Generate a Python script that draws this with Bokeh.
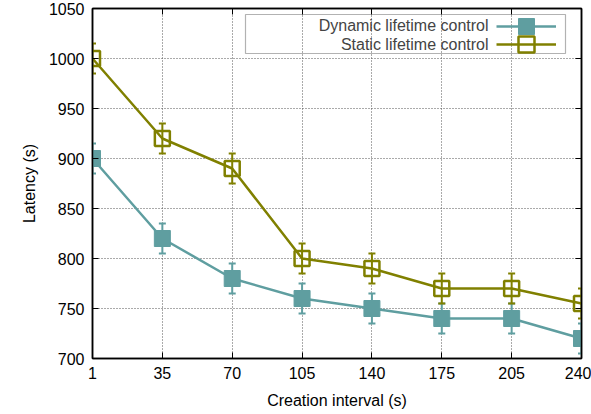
from bokeh.plotting import figure
from bokeh.models import (Range1d, FixedTicker, LinearAxis, ColumnDataSource, Whisker,
                          TeeHead, Legend, LegendItem, Label, BoxAnnotation)
from bokeh.embed import file_html
from bokeh.resources import INLINE

categories = ["1", "35", "70", "105", "140", "175", "205", "240"]
dynamic = [900, 820, 780, 760, 750, 740, 740, 720]
static = [1000, 920, 890, 800, 790, 770, 770, 755]
dynamic_err = [15, 15, 15, 15, 15, 15, 15, 15]
static_err = [15, 15, 15, 15, 15, 15, 15, 15]
y_ticks = [700, 750, 800, 850, 900, 950, 1000, 1050]
series_names = ["Dynamic lifetime control", "Static lifetime control"]

DYN = "#5F9EA0"
STA = "#808000"
FONT = "Liberation Sans"
FS = "16px"

xs = list(range(len(categories)))

p = figure(width=591, height=414, output_backend="svg", toolbar_location=None,
           x_range=Range1d(0, len(categories) - 1), y_range=Range1d(700, 1050),
           min_border_left=92, min_border_right=10, min_border_top=8, min_border_bottom=56)

p.background_fill_color = "white"
p.border_fill_color = "white"
p.outline_line_color = "black"
p.outline_line_width = 1.5

for ax in (p.xaxis[0], p.yaxis[0]):
    ax.major_tick_in = 6
    ax.major_tick_out = 0
    ax.minor_tick_in = 0
    ax.minor_tick_out = 0
    ax.axis_line_color = "black"
    ax.axis_line_width = 1.5
    ax.major_tick_line_color = "black"
    ax.major_label_text_font = FONT
    ax.major_label_text_font_size = FS
    ax.major_label_text_color = "black"
    ax.axis_label_text_font = FONT
    ax.axis_label_text_font_size = FS
    ax.axis_label_text_font_style = "normal"
    ax.axis_label_text_color = "black"

p.xaxis.ticker = FixedTicker(ticks=xs)
p.xaxis.major_label_overrides = {i: c for i, c in enumerate(categories)}
p.yaxis.ticker = FixedTicker(ticks=y_ticks)
p.xaxis.axis_label = "Creation interval (s)"
p.yaxis.axis_label = "Latency (s)"
p.xaxis.major_label_standoff = 8
p.yaxis.major_label_standoff = 8
p.xaxis.axis_label_standoff = 10
p.yaxis.axis_label_standoff = 8

# mirrored axes: ticks only (minor ticks carry no labels)
ra = LinearAxis(ticker=FixedTicker(ticks=[], minor_ticks=y_ticks), major_tick_in=0,
                major_tick_out=0, minor_tick_in=6, minor_tick_out=0,
                minor_tick_line_color="black", axis_line_color="black", axis_line_width=1.5)
ta = LinearAxis(ticker=FixedTicker(ticks=[], minor_ticks=xs), major_tick_in=0,
                major_tick_out=0, minor_tick_in=6, minor_tick_out=0,
                minor_tick_line_color="black", axis_line_color="black", axis_line_width=1.5)
p.add_layout(ra, "right")
p.add_layout(ta, "above")

p.xgrid.ticker = FixedTicker(ticks=xs)
p.ygrid.ticker = FixedTicker(ticks=y_ticks)
for g in (p.xgrid[0], p.ygrid[0]):
    g.grid_line_color = "#555555"
    g.grid_line_dash = "1 2"
    g.grid_line_width = 1

src_d = ColumnDataSource(dict(x=xs, y=dynamic,
                              lo=[v - e for v, e in zip(dynamic, dynamic_err)],
                              hi=[v + e for v, e in zip(dynamic, dynamic_err)]))
src_s = ColumnDataSource(dict(x=xs, y=static,
                              lo=[v - e for v, e in zip(static, static_err)],
                              hi=[v + e for v, e in zip(static, static_err)]))

for src, col in ((src_d, DYN), (src_s, STA)):
    w = Whisker(base="x", upper="hi", lower="lo", source=src, line_color=col, line_width=2,
                upper_head=TeeHead(size=7, line_color=col, line_width=2),
                lower_head=TeeHead(size=7, line_color=col, line_width=2), level="underlay")
    p.add_layout(w)

ld = p.line("x", "y", source=src_d, line_color=DYN, line_width=2.5)
sd = p.scatter("x", "y", source=src_d, marker="square", size=16, fill_color=DYN,
               line_color=DYN, line_width=1)
ls = p.line("x", "y", source=src_s, line_color=STA, line_width=2.5)
ss = p.scatter("x", "y", source=src_s, marker="square", size=15, fill_alpha=0,
               line_color=STA, line_width=2.5)

# gnuplot-style key: text right-aligned, sample on the right, framed
for rends, ly in (([ld, sd], 312), ([ls, ss], 294)):
    lg = Legend(items=[LegendItem(label="", renderers=rends)],
                location=(404, ly), padding=0, margin=0, spacing=0,
                glyph_width=60, glyph_height=40, label_width=0, label_height=40,
                label_standoff=0, label_text_font_size="1px",
                border_line_alpha=0, background_fill_alpha=0)
    p.add_layout(lg)

box = BoxAnnotation(left=153, right=473, top=344, bottom=305,
                    left_units="screen", right_units="screen",
                    top_units="screen", bottom_units="screen",
                    fill_alpha=0, line_color="black", line_width=1.2)
p.add_layout(box)

for name, ty in zip(series_names, (333, 314)):
    p.add_layout(Label(x=396, y=ty, x_units="screen", y_units="screen",
                       text=name, text_align="right",
                       text_baseline="middle", text_font=FONT, text_font_size=FS))

open("out.html", "w").write(file_html(p, INLINE))
